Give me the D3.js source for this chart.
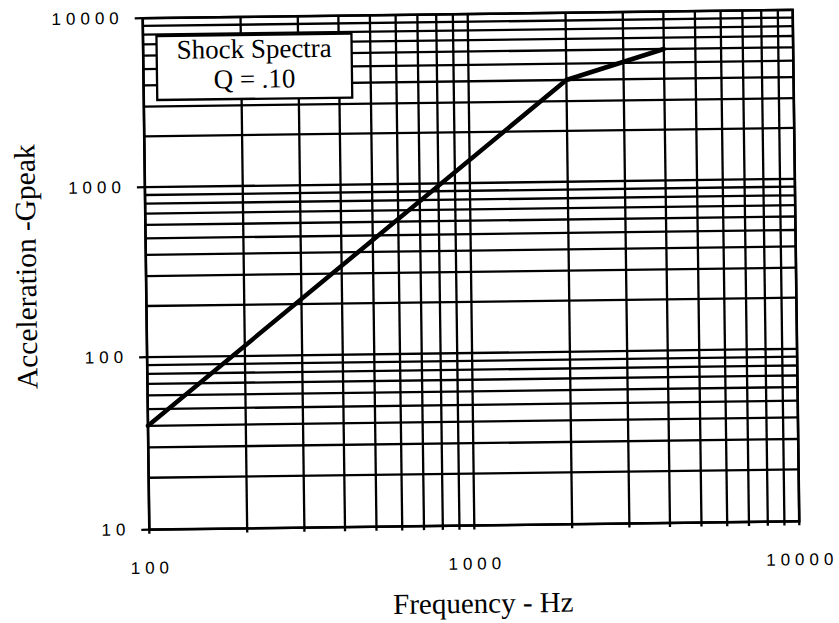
<!DOCTYPE html>
<html>
<head>
<meta charset="utf-8">
<script src="https://cdn.jsdelivr.net/npm/d3@7/dist/d3.min.js"></script>
<style>
  html, body { margin: 0; padding: 0; background: #fff; }
  svg { display: block; }
</style>
</head>
<body>
<svg id="chart" width="839" height="623"></svg>
<script>
// ---- data ----
const frequency = [100, 2000, 4000];          // Hz
const acceleration = [40, 4000, 6000];        // G peak
const xTickLabels = ["100", "1000", "10000"];
const yTickLabels = ["10", "100", "1000", "10000"];
const xDomain = [100, 10000];
const yDomain = [10, 10000];
const boxLines = ["Shock Spectra", "Q = .10"];
const xTitle = "Frequency - Hz";
const yTitle = "Acceleration -Gpeak";

// ---- layout ----
const pLeft = 146, pRight = 796, pTop = 14, pBottom = 525.5;
const svg = d3.select("#chart");
const g = svg.append("g").attr("transform", "rotate(-0.74, 471, 270)");

const x = d3.scaleLog().domain(xDomain).range([pLeft, pRight]);
// slightly uneven decades, as on the printed graph paper
const y = d3.scaleLog().domain([10, 100, 1000, 10000]).range([pBottom, 353, 183, pTop]);

function gridValues(domain) {
  const vals = [];
  for (let d = Math.log10(domain[0]); d < Math.log10(domain[1]); d++) {
    for (let k = 1; k <= 9; k++) vals.push(k * Math.pow(10, d));
  }
  vals.push(domain[1]);
  return vals;
}
const xGrid = gridValues(xDomain);
const yGrid = gridValues(yDomain);

// horizontal grid lines
g.append("g").selectAll("line").data(yGrid).join("line")
  .attr("x1", pLeft).attr("x2", pRight)
  .attr("y1", d => y(d)).attr("y2", d => y(d))
  .attr("stroke", "#000").attr("stroke-width", 2.3);

// vertical grid lines (extend slightly below axis as ticks)
g.append("g").selectAll("line").data(xGrid).join("line")
  .attr("x1", d => x(d)).attr("x2", d => x(d))
  .attr("y1", pTop).attr("y2", pBottom + 4)
  .attr("stroke", "#000").attr("stroke-width", 2.3);

// major y ticks extending left
g.append("g").selectAll("line").data(yTickLabels).join("line")
  .attr("x1", pLeft - 8).attr("x2", pLeft)
  .attr("y1", d => y(+d)).attr("y2", d => y(+d))
  .attr("stroke", "#000").attr("stroke-width", 2.3);

// frame
g.append("rect")
  .attr("x", pLeft).attr("y", pTop)
  .attr("width", pRight - pLeft).attr("height", pBottom - pTop)
  .attr("fill", "none").attr("stroke", "#000").attr("stroke-width", 2.6);

// curve
const line = d3.line().x((d, i) => x(frequency[i])).y((d, i) => y(acceleration[i]));
g.append("path")
  .datum(frequency)
  .attr("d", line)
  .attr("fill", "none").attr("stroke", "#000")
  .attr("stroke-width", 4.5).attr("stroke-linejoin", "round").attr("stroke-linecap", "round");

// tick labels
const ls = 5;
g.append("g").selectAll("text").data(yTickLabels).join("text")
  .attr("x", pLeft - 19).attr("y", d => y(+d))
  .attr("text-anchor", "end").attr("dominant-baseline", "central")
  .style("font-family", "'Liberation Sans', Arial, sans-serif")
  .style("font-size", "17px").style("letter-spacing", ls + "px")
  .text(d => d);

g.append("g").selectAll("text").data(xTickLabels).join("text")
  .attr("x", d => x(+d) + ls / 2).attr("y", pBottom + 38.5)
  .attr("text-anchor", "middle").attr("dominant-baseline", "central")
  .style("font-family", "'Liberation Sans', Arial, sans-serif")
  .style("font-size", "17px").style("letter-spacing", ls + "px")
  .text(d => d);

// annotation box
const bx = 159.5, by = 32, bw = 195, bh = 64;
g.append("rect").attr("x", bx).attr("y", by).attr("width", bw).attr("height", bh)
  .attr("fill", "#fff").attr("stroke", "#000").attr("stroke-width", 2.3);
g.append("g").selectAll("text").data(boxLines).join("text")
  .attr("x", bx + bw / 2).attr("y", (d, i) => by + 23 + i * 30)
  .attr("text-anchor", "middle")
  .style("font-family", "'Liberation Serif', 'Times New Roman', serif")
  .style("font-size", "27px")
  .text(d => d);

// axis titles
g.append("text")
  .attr("x", 479).attr("y", 613)
  .attr("text-anchor", "middle")
  .style("font-family", "'Liberation Serif', 'Times New Roman', serif")
  .style("font-size", "29px")
  .text(xTitle);

g.append("text")
  .attr("transform", "translate(36, 261) rotate(-90)")
  .attr("text-anchor", "middle")
  .style("font-family", "'Liberation Serif', 'Times New Roman', serif")
  .style("font-size", "29.5px")
  .text(yTitle);
</script>
</body>
</html>
